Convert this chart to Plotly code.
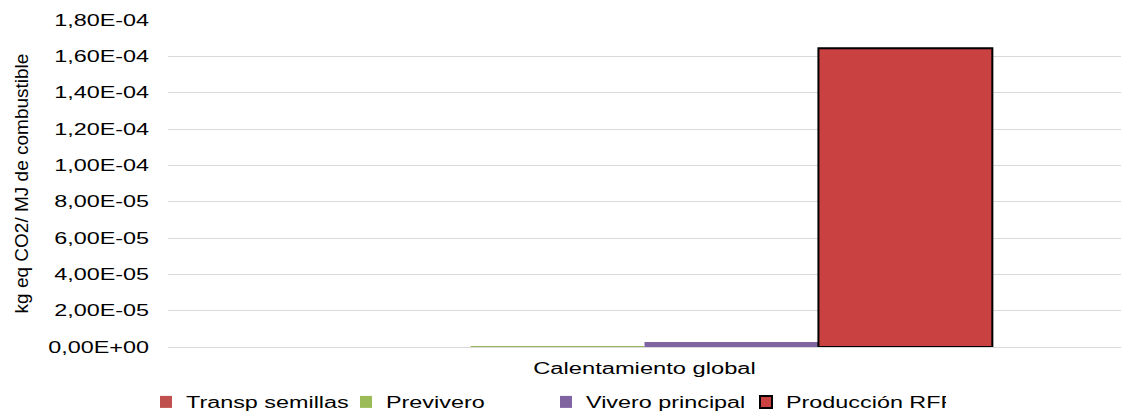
import plotly.graph_objects as go

categories = ["Calentamiento global"]
series_names = ["Transp semillas", "Previvero", "Vivero principal", "Producción RFF"]
transp_semillas = [0.0]
previvero = [5.5e-7]
vivero_principal = [2.7e-6]
produccion_rff = [1.645e-4]
tick_values = [0, 2e-5, 4e-5, 6e-5, 8e-5, 1e-4, 1.2e-4, 1.4e-4, 1.6e-4, 1.8e-4]
tick_labels = ["0,00E+00", "2,00E-05", "4,00E-05", "6,00E-05", "8,00E-05",
               "1,00E-04", "1,20E-04", "1,40E-04", "1,60E-04", "1,80E-04"]

colors = ["#C0504D", "#9BBB59", "#8064A2", "#C94141"]
values = [transp_semillas, previvero, vivero_principal, produccion_rff]

font_family = "Liberation Sans, Arial, sans-serif"

fig = go.Figure()
for name, vals, col in zip(series_names, values, colors):
    line = dict(color="black", width=2) if name == "Producción RFF" else dict(width=0)
    fig.add_trace(go.Bar(x=categories, y=vals, name=name,
                         marker=dict(color=col, line=line)))

fig.update_layout(
    width=1121, height=414,
    margin=dict(l=168, r=0, t=20, b=67, autoexpand=False),
    paper_bgcolor="white", plot_bgcolor="white",
    barmode="group", bargap=0.27, bargroupgap=0,
    font=dict(family=font_family, size=16, color="black"),
    showlegend=True,
    legend=dict(orientation="h", xref="container", yref="container",
                xanchor="left", yanchor="middle", x=146 / 1121, y=(414 - 402) / 414,
                font=dict(size=16, family=font_family, color="black"),
                itemwidth=30, entrywidth=155, entrywidthmode="pixels",
                traceorder="normal", bgcolor="rgba(0,0,0,0)", borderwidth=0),
)
fig.update_yaxes(range=[0, 1.8e-4], tickvals=tick_values, ticktext=tick_labels,
                 showgrid=True, gridcolor="#D9D9D9", gridwidth=1,
                 zeroline=True, zerolinecolor="#D9D9D9", zerolinewidth=1,
                 ticks="", ticklabelstandoff=18, automargin=False,
                 tickfont=dict(size=16),
                 title=dict(text="kg eq CO2/ MJ de combustible",
                            font=dict(size=19), standoff=46))
fig.update_xaxes(showgrid=False, showline=False, ticks="", automargin=False,
                 tickfont=dict(size=16), ticklabelstandoff=10)

# Page without the browser's default body margin, and the reference's
# horizontally stretched lettering for the horizontal labels.
page_js = """
document.body.style.margin = '0px';
document.body.style.overflow = 'hidden';
var gd = document.getElementById('{plot_id}');
var factors = {legend: 1.46, ytick: 1.46, xtick: 1.48};
function stretchOne(t, f){
  var key = t.textContent + '|' + f;
  if (t.getAttribute('data-stretched') === key && t.hasAttribute('textLength')) return;
  t.removeAttribute('textLength');
  t.removeAttribute('lengthAdjust');
  var w = 0;
  try { w = t.getComputedTextLength(); } catch (e) { w = 0; }
  if (w > 0) {
    t.setAttribute('lengthAdjust', 'spacingAndGlyphs');
    t.setAttribute('textLength', (w * f).toFixed(2));
    t.setAttribute('data-stretched', key);
  }
}
function stretchText(){
  gd.querySelectorAll('.ytick text').forEach(function(t){ stretchOne(t, factors.ytick); });
  gd.querySelectorAll('.xtick text').forEach(function(t){ stretchOne(t, factors.xtick); });
  gd.querySelectorAll('.legendtext').forEach(function(t){ stretchOne(t, factors.legend); });
}
stretchText();
gd.on('plotly_afterplot', stretchText);
[10, 30, 100, 250, 500, 1000].forEach(function(ms){ setTimeout(stretchText, ms); });
"""

fig.write_html("out.html", post_script=page_js,
               config={"displayModeBar": False, "staticPlot": True})
